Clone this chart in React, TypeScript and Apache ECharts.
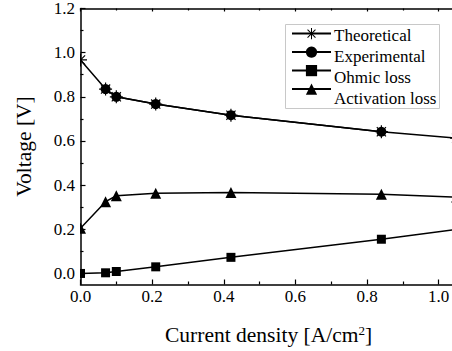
import React, { useEffect, useRef } from "react";
import * as echarts from "echarts";

const currentDensity = [0, 0.07, 0.1, 0.21, 0.42, 0.84, 1.05];
const theoretical = [0.967, 0.835, 0.8, 0.767, 0.717, 0.642, 0.613];
const experimental = [null, 0.835, 0.8, 0.767, 0.717, 0.642, null];
const ohmicLoss = [0.0, 0.003, 0.009, 0.03, 0.073, 0.155, 0.2];
const activationLoss = [0.205, 0.325, 0.352, 0.363, 0.367, 0.359, 0.346];

const seriesNames = ["Theoretical", "Experimental", "Ohmic loss", "Activation loss"];
const xMajorTicks = [0, 0.2, 0.4, 0.6, 0.8, 1.0];
const xMinorTicks = [0.1, 0.3, 0.5, 0.7, 0.9];
const yMajorTicks = [0, 0.2, 0.4, 0.6, 0.8, 1.0, 1.2];
const yMinorTicks = [0.1, 0.3, 0.5, 0.7, 0.9, 1.1];

const FONT = "Liberation Serif";
const BLACK = "#000";

function asteriskSymbol(): string {
  const R = 10;
  const t = 0.9;
  let d = "";
  for (const deg of [0, 45, 90, 135]) {
    const a = (deg * Math.PI) / 180;
    const c = Math.cos(a);
    const s = Math.sin(a);
    const px = -s * t;
    const py = c * t;
    const pts = [
      [R * c + px, R * s + py],
      [-R * c + px, -R * s + py],
      [-R * c - px, -R * s - py],
      [R * c - px, R * s - py],
    ].map((p) => `${p[0].toFixed(3)} ${p[1].toFixed(3)}`);
    d += `M${pts[0]} L${pts[1]} L${pts[2]} L${pts[3]} Z `;
  }
  return "path://" + d;
}

function pairs(values: (number | null)[]) {
  return currentDensity
    .map((x, i) => [x, values[i]])
    .filter((p) => p[1] !== null) as number[][];
}

const axisLineStyle = { color: BLACK, width: 1.5 };
const tickLineStyle = { color: BLACK, width: 1.2 };

export default function App() {
  const ref = useRef<HTMLDivElement>(null);

  useEffect(() => {
    if (!ref.current) return;
    const chart = echarts.init(ref.current, null, { renderer: "svg" });
    const X_MIN = 0;
    const X_MAX = 1.05;
    const Y_MIN = -0.05;
    const Y_MAX = 1.2;
    const fmt = (v: number) => v.toFixed(1);

    const GRID_LEFT = 80.5;
    const GRID_TOP = 8.5;
    const GRID_H = 276;
    const LEG_LEFT = 285;
    const LEG_TOP = 24;
    const LEG_ROW = 21.3;

    const lineCommon = {
      type: "line" as const,
      lineStyle: { color: BLACK, width: 1.5 },
      itemStyle: { color: BLACK },
      xAxisIndex: 0,
      yAxisIndex: 0,
      z: 2,
    };

    const hiddenAxisX = (position: string, length: number, values: number[], showLine: boolean) => ({
      type: "value",
      min: X_MIN,
      max: X_MAX,
      position,
      z: 5,
      axisLine: { show: showLine, onZero: false, lineStyle: axisLineStyle },
      axisTick: { show: true, inside: true, length, customValues: values, lineStyle: tickLineStyle },
      axisLabel: { show: false },
      splitLine: { show: false },
    });

    chart.setOption({
      animation: false,
      backgroundColor: "#fff",
      textStyle: { fontFamily: FONT, color: BLACK },
      grid: {
        left: GRID_LEFT,
        top: GRID_TOP,
        width: 376.1,
        height: GRID_H,
        containLabel: false,
        outerBoundsMode: "none",
      },
      legend: {
        orient: "vertical",
        left: LEG_LEFT,
        top: LEG_TOP,
        itemWidth: 39,
        itemHeight: 14,
        itemGap: LEG_ROW - 14,
        padding: [4, 0, 0, 6],
        formatter: () => "",
        textStyle: { fontSize: 10, lineHeight: 10 },
        data: seriesNames,
        z: 6,
      },
      xAxis: [
        {
          ...hiddenAxisX("bottom", 5, xMajorTicks, true),
          name: "Current density [A/cm{sup|2}]",
          nameLocation: "middle",
          nameGap: 39,
          nameMoveOverlap: false,
          nameTextStyle: {
            fontFamily: FONT,
            fontSize: 21.5,
            color: BLACK,
            rich: {
              sup: { fontFamily: FONT, fontSize: 13, lineHeight: 13, verticalAlign: "top", color: BLACK },
            },
          },
        },
        hiddenAxisX("bottom", 3, xMinorTicks, false),
        hiddenAxisX("top", 3, xMajorTicks, true),
        hiddenAxisX("top", 2, xMinorTicks, false),
      ],
      yAxis: [
        {
          type: "value",
          min: Y_MIN,
          max: Y_MAX,
          position: "left",
          z: 5,
          axisLine: { show: true, onZero: false, lineStyle: axisLineStyle },
          axisTick: { show: true, inside: true, length: 5, customValues: yMajorTicks, lineStyle: tickLineStyle },
          axisLabel: { show: false },
          splitLine: { show: false },
          name: "Voltage [V]",
          nameLocation: "middle",
          nameGap: 46,
          nameMoveOverlap: false,
          nameTextStyle: { fontFamily: FONT, fontSize: 21.5, color: BLACK },
        },
        {
          type: "value",
          min: Y_MIN,
          max: Y_MAX,
          position: "left",
          z: 5,
          axisLine: { show: false, onZero: false },
          axisTick: { show: true, inside: true, length: 3, customValues: yMinorTicks, lineStyle: tickLineStyle },
          axisLabel: { show: false },
          splitLine: { show: false },
        },
      ],
      series: [
        { ...lineCommon, name: seriesNames[1], data: pairs(experimental), symbol: "circle", symbolSize: 10 },
        { ...lineCommon, name: seriesNames[0], data: pairs(theoretical), symbol: asteriskSymbol(), symbolSize: 13 },
        { ...lineCommon, name: seriesNames[2], data: pairs(ohmicLoss), symbol: "rect", symbolSize: 9 },
        { ...lineCommon, name: seriesNames[3], data: pairs(activationLoss), symbol: "triangle", symbolSize: 11 },
      ],
    });

    // Tick labels and legend text drawn as graphic text (serif font), positioned via the axes' scales.
    const labelFont = `17px ${FONT}`;
    const xAxisY = GRID_TOP + GRID_H;
    const graphics: any[] = [
      {
        type: "rect",
        shape: { x: 0, y: 0, width: GRID_LEFT - 0.5, height: 351 },
        style: { fill: "#fff" },
        z: 3,
      },
      {
        type: "rect",
        shape: { x: LEG_LEFT + 0.5, y: LEG_TOP + 0.5, width: 154, height: 84 },
        style: { fill: "#fff", stroke: "#c8c8c8", lineWidth: 1 },
        z: 4,
      },
    ];
    xMajorTicks.forEach((v) => {
      const px = chart.convertToPixel({ xAxisIndex: 0 }, v) as number;
      graphics.push({
        type: "text",
        x: px,
        y: xAxisY + 11.5,
        z: 7,
        style: { text: fmt(v), font: labelFont, fill: BLACK, align: "center", verticalAlign: "middle" },
      });
    });
    yMajorTicks.forEach((v) => {
      const py = chart.convertToPixel({ yAxisIndex: 0 }, v) as number;
      graphics.push({
        type: "text",
        x: GRID_LEFT - 5.5,
        y: py,
        z: 7,
        style: { text: fmt(v), font: labelFont, fill: BLACK, align: "right", verticalAlign: "middle" },
      });
    });
    seriesNames.forEach((name, i) => {
      graphics.push({
        type: "text",
        x: LEG_LEFT + 6 + 39 + 4,
        y: LEG_TOP + 4 + 7 + i * LEG_ROW,
        z: 7,
        style: { text: name, font: labelFont, fill: BLACK, align: "left", verticalAlign: "middle" },
      });
    });
    chart.setOption({ graphic: graphics });

    return () => chart.dispose();
  }, []);

  return (
    <div
      ref={ref}
      style={{ position: "fixed", left: 0, top: 0, width: 452, height: 351, background: "#fff" }}
    />
  );
}
